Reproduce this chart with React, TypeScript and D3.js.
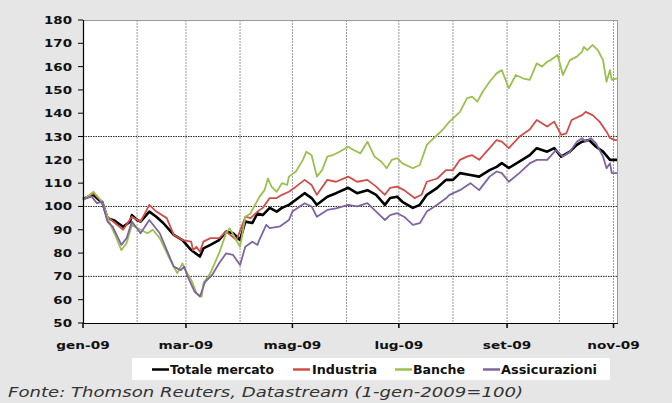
import React from "react";
import * as d3 from "d3";

// Index values (1 Jan 2009 = 100), points as [days since 1 Jan 2009, value]
const totaleMercato: [number, number][] = [
  [0, 103.2], [6, 105], [9, 102.8], [11, 102], [14, 95], [18, 94], [23, 91.3], [27, 93.5],
  [28, 96.3], [31, 94.2], [33, 93.5], [38, 97.8], [42, 95.6], [46, 92.9], [52, 87.8], [57, 85.6],
  [62, 81.3], [67, 78.5], [69, 82], [73, 83.5], [78, 85.6], [82, 89.2], [86, 88.5], [90, 85.6],
  [93, 93.5], [97, 92.9], [100, 97], [103, 96.3], [107, 99.4], [111, 97.8], [114, 99.4], [118, 100.7],
  [122, 102.9], [127, 105.7], [131, 103.6], [134, 100.7], [140, 104.2], [145, 105.7], [152, 108],
  [157, 105.7], [163, 107], [168, 105], [173, 100.7], [176, 103.6], [180, 104.2], [183, 102],
  [189, 99.4], [193, 100.7], [197, 105], [203, 108], [208, 111.4], [212, 111.4], [216, 114.3],
  [222, 113.5], [227, 112.8], [233, 115.6], [237, 117], [240, 118.6], [244, 116.5], [250, 119.2],
  [256, 122], [260, 125], [266, 123.5], [270, 125], [274, 121.4], [279, 123.5], [283, 126.4],
  [286, 127.8], [290, 128.5], [294, 125.6], [298, 123.5], [302, 120], [306, 120],
];

const industria: [number, number][] = [
  [0, 102.8], [6, 105.7], [11, 102], [14, 95.6], [23, 90], [28, 95.6], [33, 93.5], [38, 100.7],
  [42, 97.8], [48, 95], [52, 87.8], [57, 85.6], [62, 84.9], [63, 81.3], [65, 82.7], [67, 80.6],
  [69, 84.9], [73, 86.4], [78, 86.4], [82, 89.2], [88, 85.6], [93, 95.6], [96, 95], [100, 97.8],
  [103, 99.4], [107, 103.6], [111, 103.6], [114, 105], [118, 106.3], [122, 108.5], [127, 111.4],
  [131, 109.2], [134, 105], [140, 111.4], [145, 110.6], [152, 112.8], [157, 110.6], [163, 111.4],
  [168, 108.5], [173, 105], [176, 108], [180, 108.5], [184, 107], [190, 103.6], [194, 105],
  [197, 110.6], [203, 112], [208, 115.6], [212, 115.6], [216, 120], [220, 121.4], [223, 122],
  [227, 120], [233, 125], [237, 128.5], [240, 127.8], [244, 125], [250, 129.9], [256, 133],
  [260, 137.1], [266, 134.3], [270, 136.4], [274, 130.7], [277, 131.4], [280, 137.1], [286, 139.2],
  [288, 140.6], [292, 139.2], [296, 136.4], [300, 132.1], [302, 129.3], [305, 128.5], [306, 128.5],
];

const banche: [number, number][] = [
  [0, 102.8], [6, 106.3], [11, 102], [15, 93.5], [18, 88.5], [22, 81.3], [25, 84.3], [28, 92.1],
  [33, 90], [37, 88.5], [40, 90], [44, 86.4], [50, 77], [54, 71.4], [57, 75.6], [58, 73.6],
  [62, 68.5], [65, 62.9], [68, 61.3], [69, 67], [73, 71.4], [78, 80], [82, 88.5], [84, 90.7],
  [90, 82.7], [93, 95.6], [96, 97], [97, 98.5], [101, 104], [104, 107], [106, 112], [108, 108.5],
  [111, 106.3], [114, 110], [117, 109.2], [118, 112.8], [122, 115], [126, 120], [128, 123.5],
  [131, 122], [134, 112.8], [137, 115.6], [140, 121.4], [143, 122], [147, 123.5], [152, 125.6],
  [155, 124.2], [159, 122.8], [163, 127.8], [167, 121.4], [171, 119.2], [174, 116.4], [177, 120],
  [180, 120.7], [183, 118.5], [189, 116.4], [193, 117.8], [197, 126.4], [201, 129.3], [206, 132.8],
  [210, 136.4], [212, 137.8], [216, 140.6], [220, 146.4], [223, 147.1], [226, 145], [229, 149.2],
  [233, 153.5], [237, 157.1], [240, 158.5], [244, 150.7], [248, 156.4], [252, 155], [256, 154.3],
  [260, 161.4], [263, 160], [266, 162.1], [268, 162.8], [272, 165], [275, 156.4], [279, 162.8],
  [283, 164.3], [286, 166.4], [287, 168.5], [289, 167.1], [292, 169.3], [295, 167.1], [298, 162.8],
  [300, 153.5], [302, 158.5], [303, 154.3], [306, 155],
];

const assicurazioni: [number, number][] = [
  [0, 103.2], [5, 104.2], [8, 101.4], [11, 102], [14, 93.5], [17, 91.3], [22, 83.5], [25, 86.4],
  [28, 93.5], [33, 88.5], [38, 94.2], [44, 88.5], [48, 81.3], [52, 74.2], [56, 72.7], [58, 74.2],
  [60, 69.9], [64, 63.4], [67, 61.3], [70, 67.7], [74, 70.6], [78, 75.6], [82, 79.9], [86, 79.2],
  [90, 74.9], [93, 82.7], [97, 84.9], [100, 83.5], [101, 85.6], [105, 92.1], [107, 90.7],
  [113, 91.5], [118, 94.2], [120, 97.8], [127, 101.4], [131, 100], [134, 95.6], [140, 98.5],
  [145, 99.2], [152, 100.7], [157, 100], [163, 101.4], [168, 97.8], [173, 94.2], [176, 96.3],
  [180, 97.1], [184, 95.6], [189, 92.1], [193, 92.8], [197, 97.8], [203, 100.7], [208, 103.5],
  [210, 105], [216, 107], [222, 110], [227, 107], [233, 112.8], [237, 115], [240, 114.3],
  [244, 110.6], [250, 114.3], [256, 118.5], [260, 120], [266, 120], [271, 124.2], [275, 121.4],
  [279, 123.5], [283, 127.8], [286, 129.3], [288, 127.8], [291, 129.3], [294, 127.1], [298, 121.4],
  [300, 116.4], [302, 118.5], [303, 114.3], [306, 114.3],
];

const seriesNames = ["Totale mercato", "Industria", "Banche", "Assicurazioni"];
const seriesData = [totaleMercato, industria, banche, assicurazioni];
const seriesColors = ["#000000", "#D04E4A", "#9BC04F", "#8064A2"];
const seriesWidths = [2.6, 1.8, 1.8, 1.8];

const yTicks = [50, 60, 70, 80, 90, 100, 110, 120, 130, 140, 150, 160, 170, 180];
const yGridValues = [70, 100, 130];
const xTickLabels = ["gen-09", "mar-09", "mag-09", "lug-09", "set-09", "nov-09"];
const sourceText = "Fonte: Thomson Reuters, Datastream (1-gen-2009=100)";

const W = 672;
const H = 403;
const left = 83;
const right = 617;
const top = 20;
const bottom = 323;

const startDate = new Date(2009, 0, 1);
const endDate = new Date(2009, 10, 3);

export default function App() {
  const x = d3.scaleTime().domain([startDate, endDate]).range([left, right]);
  const y = d3.scaleLinear().domain([50, 180]).range([bottom, top]);
  const dayToDate = (d: number) => d3.timeDay.offset(startDate, d);

  const line = d3
    .line<[number, number]>()
    .x((p) => x(dayToDate(p[0])))
    .y((p) => y(p[1]));

  const monthLines = d3.timeMonth.range(new Date(2009, 1, 1), new Date(2009, 10, 2));
  const tickDates = d3.timeMonth.every(2)!.range(startDate, new Date(2009, 10, 2));

  const tickFont = "'DejaVu Sans', Verdana, sans-serif";

  // legend layout: line start x, text start x, text width
  const legendItems = [
    { lx: 152, tx: 170, tw: 104 },
    { lx: 293, tx: 312, tw: 65 },
    { lx: 395, tx: 413, tw: 52 },
    { lx: 483, tx: 501, tw: 96 },
  ];

  return (
    <svg
      width={W}
      height={H}
      style={{ position: "fixed", left: 0, top: 0, background: "#e6e6e6" }}
    >
      <rect x={0} y={0} width={W} height={H} fill="#e6e6e6" />
      <rect x={left} y={top} width={right - left} height={bottom - top} fill="#ffffff" />

      {/* monthly vertical grid */}
      {monthLines.map((m, i) => (
        <line
          key={"vg" + i}
          x1={x(m)}
          x2={x(m)}
          y1={top}
          y2={bottom}
          stroke="#9a9a9a"
          strokeWidth={1}
          strokeDasharray="2,1"
        />
      ))}

      {/* frame: top and right edges */}
      <line x1={left} x2={right} y1={top + 0.5} y2={top + 0.5} stroke="#9a9a9a" strokeWidth={1} />
      <line x1={right + 0.5} x2={right + 0.5} y1={top} y2={bottom} stroke="#9a9a9a" strokeWidth={1} />

      {/* horizontal grid */}
      {yGridValues.map((v) => (
        <line
          key={"hg" + v}
          x1={left}
          x2={right}
          y1={y(v)}
          y2={y(v)}
          stroke="#222"
          strokeWidth={1}
          strokeDasharray="1.5,1"
        />
      ))}

      {/* series */}
      {seriesData.map((s, i) => (
        <path
          key={seriesNames[i]}
          d={line(s) || ""}
          fill="none"
          stroke={seriesColors[i]}
          strokeWidth={seriesWidths[i]}
          strokeLinejoin="round"
        />
      ))}

      {/* y axis */}
      <line x1={left + 0.5} x2={left + 0.5} y1={top} y2={bottom} stroke="#000" strokeWidth={1.2} />
      {yTicks.map((v) => (
        <g key={"yt" + v}>
          <line x1={left - 5} x2={left} y1={y(v)} y2={y(v)} stroke="#000" strokeWidth={1} />
          <text
            transform={`translate(72,${y(v) + 4}) scale(1.22,1)`}
            textAnchor="end"
            fontFamily={tickFont}
            fontWeight="bold"
            fontSize={11}
            fill="#111"
          >
            {v}
          </text>
        </g>
      ))}

      {/* x axis */}
      <line x1={left} x2={right + 1} y1={bottom + 0.5} y2={bottom + 0.5} stroke="#000" strokeWidth={1.2} />
      {tickDates.map((d, i) => (
        <g key={"xt" + i}>
          <line x1={x(d)} x2={x(d)} y1={bottom} y2={bottom + 5} stroke="#000" strokeWidth={1.5} />
          <text
            transform={`translate(${x(d)},349) scale(1.3,1)`}
            textAnchor="middle"
            fontFamily={tickFont}
            fontWeight="bold"
            fontSize={10.5}
            fill="#111"
          >
            {xTickLabels[i]}
          </text>
        </g>
      ))}

      {/* legend */}
      <rect x={132} y={358} width={478} height={22} fill="#ffffff" />
      {legendItems.map((it, i) => (
        <g key={"lg" + i}>
          <line
            x1={it.lx}
            x2={it.lx + 17}
            y1={369.5}
            y2={369.5}
            stroke={seriesColors[i]}
            strokeWidth={2.5}
          />
          <text
            x={it.tx}
            y={374}
            fontFamily={tickFont}
            fontWeight="bold"
            fontSize={11.5}
            fill="#111"
            textLength={it.tw}
            lengthAdjust="spacingAndGlyphs"
          >
            {seriesNames[i]}
          </text>
        </g>
      ))}

      {/* source note */}
      <text
        x={8}
        y={397}
        fontFamily={tickFont}
        fontStyle="italic"
        fontSize={14}
        fill="#333"
        textLength={515}
        lengthAdjust="spacingAndGlyphs"
      >
        {sourceText}
      </text>
    </svg>
  );
}
